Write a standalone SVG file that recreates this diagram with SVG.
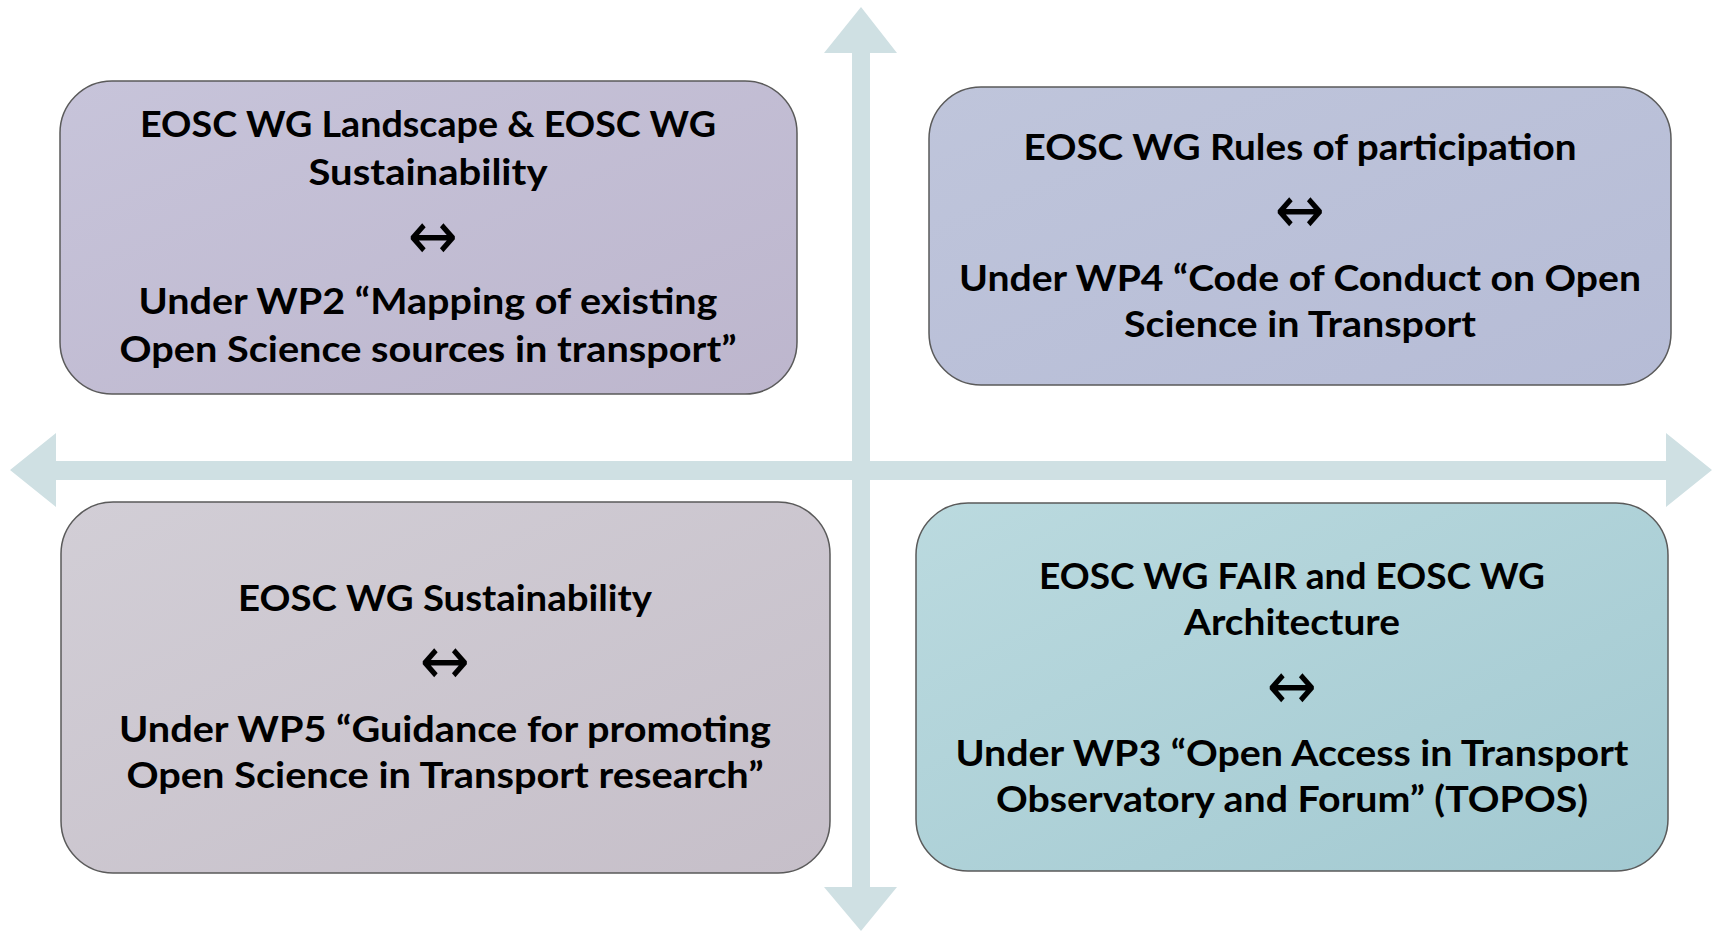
<svg xmlns="http://www.w3.org/2000/svg" width="1716" height="932" viewBox="0 0 1716 932">
  <defs>
    <linearGradient id="g1" x1="0" y1="0" x2="1" y2="1">
      <stop offset="0" stop-color="#C7C4DA"/>
      <stop offset="1" stop-color="#BDB6CD"/>
    </linearGradient>
    <linearGradient id="g2" x1="0" y1="0" x2="1" y2="1">
      <stop offset="0" stop-color="#BFC5DB"/>
      <stop offset="1" stop-color="#B6BCD6"/>
    </linearGradient>
    <linearGradient id="g3" x1="0" y1="0" x2="1" y2="1">
      <stop offset="0" stop-color="#D2CED6"/>
      <stop offset="1" stop-color="#C6BFC9"/>
    </linearGradient>
    <linearGradient id="g4" x1="0" y1="0" x2="1" y2="1">
      <stop offset="0" stop-color="#BBDADF"/>
      <stop offset="1" stop-color="#A2C9D1"/>
    </linearGradient>
    <style>
      .box { stroke: #5a5a5a; stroke-width: 1.5; }
      .t { font-family: Lato, "Open Sans", "Liberation Sans", sans-serif; font-weight: 700; font-size: 36px; fill: #000; text-anchor: middle; }
      .arr { font-family: "DejaVu Sans", sans-serif; font-weight: 400; font-size: 68px; fill: #000; text-anchor: middle; }
      .axis { fill: #CFE0E3; }
    </style>
  </defs>
  <rect width="1716" height="932" fill="#FFFFFF"/>

  <g id="connectors">
    <polygon class="axis" points="861,7 897,53 870,53 870,887 897,887 861,931 824,887 852,887 852,53 824,53"/>
    <polygon class="axis" points="10,470 56,433 56,461 1666,461 1666,433 1712,470 1666,507 1666,480 56,480 56,507"/>
  </g>

  <g id="node-landscape">
    <rect class="box" x="60" y="81" width="737" height="313" rx="52" ry="52" fill="url(#g1)"/>
    <text class="t" x="428" y="137" textLength="576" lengthAdjust="spacingAndGlyphs">EOSC WG Landscape &amp; EOSC WG</text>
    <text class="t" x="428" y="185" textLength="239" lengthAdjust="spacingAndGlyphs">Sustainability</text>
    <text class="arr" x="433" y="259" textLength="50" lengthAdjust="spacingAndGlyphs">↔</text>
    <text class="t" x="428" y="314" textLength="579" lengthAdjust="spacingAndGlyphs">Under WP2 “Mapping of existing</text>
    <text class="t" x="428" y="362" textLength="617" lengthAdjust="spacingAndGlyphs">Open Science sources in transport”</text>
  </g>

  <g id="node-rules">
    <rect class="box" x="929" y="87" width="742" height="298" rx="52" ry="52" fill="url(#g2)"/>
    <text class="t" x="1300" y="160" textLength="553" lengthAdjust="spacingAndGlyphs">EOSC WG Rules of participation</text>
    <text class="arr" x="1300" y="233" textLength="50" lengthAdjust="spacingAndGlyphs">↔</text>
    <text class="t" x="1300" y="291" textLength="682" lengthAdjust="spacingAndGlyphs">Under WP4 “Code of Conduct on Open</text>
    <text class="t" x="1300" y="337" textLength="352" lengthAdjust="spacingAndGlyphs">Science in Transport</text>
  </g>

  <g id="node-sustainability">
    <rect class="box" x="61" y="502" width="769" height="371" rx="52" ry="52" fill="url(#g3)"/>
    <text class="t" x="445" y="611" textLength="414" lengthAdjust="spacingAndGlyphs">EOSC WG Sustainability</text>
    <text class="arr" x="445" y="684" textLength="50" lengthAdjust="spacingAndGlyphs">↔</text>
    <text class="t" x="445" y="742" textLength="652" lengthAdjust="spacingAndGlyphs">Under WP5 “Guidance for promoting</text>
    <text class="t" x="445" y="788" textLength="637" lengthAdjust="spacingAndGlyphs">Open Science in Transport research”</text>
  </g>

  <g id="node-fair">
    <rect class="box" x="916" y="503" width="752" height="368" rx="52" ry="52" fill="url(#g4)"/>
    <text class="t" x="1292" y="589" textLength="506" lengthAdjust="spacingAndGlyphs">EOSC WG FAIR and EOSC WG</text>
    <text class="t" x="1292" y="635" textLength="216" lengthAdjust="spacingAndGlyphs">Architecture</text>
    <text class="arr" x="1292" y="709" textLength="50" lengthAdjust="spacingAndGlyphs">↔</text>
    <text class="t" x="1292" y="766" textLength="673" lengthAdjust="spacingAndGlyphs">Under WP3 “Open Access in Transport</text>
    <text class="t" x="1292" y="812" textLength="592" lengthAdjust="spacingAndGlyphs">Observatory and Forum” (TOPOS)</text>
  </g>
</svg>
